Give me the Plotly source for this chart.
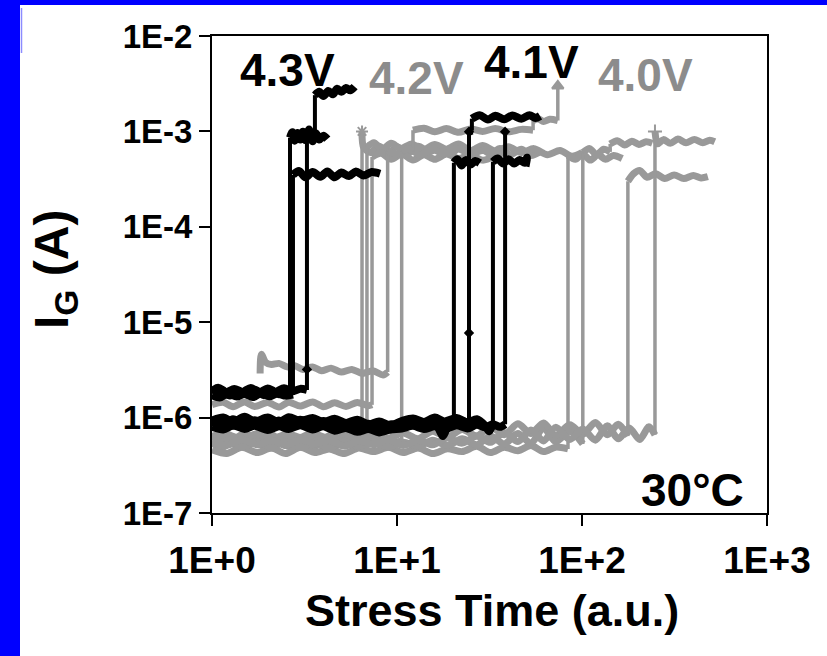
import plotly.graph_objects as go

# ---- gate current I_G (A) vs stress time (a.u.), one list pair per device ----
# 4.3 V devices
t43a = [1.0, 1.12, 1.25, 1.4, 1.55, 1.72, 1.9, 2.1, 2.3, 2.5, 2.64, 2.64, 2.72, 2.8, 2.9, 3.0, 3.1, 3.2, 3.35, 3.5, 3.65, 3.8, 4.0, 4.2]
i43a = [1.80e-6, 1.92e-6, 1.70e-6, 1.88e-6, 1.74e-6, 1.95e-6, 1.72e-6, 1.90e-6, 1.76e-6, 1.86e-6, 1.8e-6, 8.6e-4,
        9.8e-4, 8.0e-4, 9.6e-4, 8.2e-4, 9.9e-4, 8.1e-4, 9.4e-4, 7.9e-4, 9.5e-4, 8.2e-4, 9.0e-4, 8.3e-4]
t43b = [1.0, 1.1, 1.22, 1.36, 1.5, 1.66, 1.84, 2.04, 2.25, 2.5, 2.74, 2.74, 2.95, 3.2, 3.5, 3.85, 4.2, 4.6, 5.0, 5.5, 6.0, 6.6, 7.3, 8.1]
i43b = [1.72e-6, 1.62e-6, 1.80e-6, 1.66e-6, 1.78e-6, 1.64e-6, 1.81e-6, 1.67e-6, 1.79e-6, 1.70e-6, 1.74e-6, 3.5e-4,
        3.85e-4, 3.3e-4, 3.75e-4, 3.35e-4, 3.8e-4, 3.3e-4, 3.7e-4, 3.4e-4, 3.8e-4, 3.45e-4, 3.75e-4, 3.6e-4]
t43c = [1.0, 1.08, 1.2, 1.32, 1.46, 1.62, 1.8, 2.0, 2.2, 2.45, 2.7, 3.0, 3.26, 3.26, 3.35, 3.45, 3.6, 3.6,
        3.8, 4.0, 4.25, 4.5, 4.75, 5.0, 5.3, 5.6, 5.9]
i43c = [1.9e-6, 2.05e-6, 1.85e-6, 2.0e-6, 1.86e-6, 2.04e-6, 1.84e-6, 2.02e-6, 1.87e-6, 2.03e-6, 1.88e-6, 2.0e-6, 1.95e-6,
        8.8e-4, 1.05e-3, 9.0e-4, 9.4e-4, 2.4e-3, 2.6e-3, 2.35e-3, 2.65e-3, 2.45e-3, 2.8e-3, 2.6e-3, 2.85e-3, 2.7e-3, 2.95e-3]

# 4.1 V devices
t41a = [1.0, 1.15, 1.3, 1.5, 1.7, 2.0, 2.3, 2.6, 3.0, 3.5, 4.0, 4.6, 5.3, 6.1, 7.0, 8.0, 9.2, 10.6, 12.2, 14.0,
        16.0, 17.2, 17.7, 18.3, 19.2, 20.3, 20.3, 21.2, 22.3, 23.5, 25.0, 26.5, 28.0]
i41a = [9.0e-7, 8.3e-7, 9.6e-7, 8.5e-7, 9.4e-7, 8.2e-7, 9.3e-7, 8.4e-7, 9.5e-7, 8.6e-7, 9.2e-7, 8.1e-7, 8.8e-7, 7.9e-7,
        8.6e-7, 7.6e-7, 8.5e-7, 8.3e-7, 9.2e-7, 8.4e-7, 8.9e-7, 7.0e-7, 6.4e-7, 7.2e-7, 8.6e-7, 8.8e-7,
        4.7e-4, 5.1e-4, 4.4e-4, 5.0e-4, 4.5e-4, 4.9e-4, 4.65e-4]
t41b = [1.0, 1.15, 1.3, 1.5, 1.7, 2.0, 2.3, 2.6, 3.0, 3.5, 4.0, 4.6, 5.3, 6.1, 7.0, 8.0, 9.2, 10.6, 12.2, 14.0,
        16.0, 18.0, 21.0, 24.5, 24.5, 24.5, 25.4, 25.4, 28.0, 31.0, 34.0, 38.0, 42.0, 47.0, 52.0, 56.0, 59.3]
i41b = [8.6e-7, 9.5e-7, 8.2e-7, 9.3e-7, 8.4e-7, 9.6e-7, 8.3e-7, 9.4e-7, 8.5e-7, 9.5e-7, 8.4e-7, 9.1e-7, 7.8e-7, 8.7e-7,
        7.7e-7, 8.4e-7, 7.5e-7, 8.6e-7, 9.3e-7, 8.5e-7, 9.4e-7, 8.6e-7, 9.6e-7, 8.6e-7, 7.7e-6, 9.9e-4, 1.02e-3, 1.36e-3,
        1.48e-3, 1.33e-3, 1.46e-3, 1.34e-3, 1.47e-3, 1.36e-3, 1.48e-3, 1.38e-3, 1.45e-3]
t41c = [1.0, 1.15, 1.3, 1.5, 1.7, 2.0, 2.3, 2.6, 3.0, 3.5, 4.0, 4.6, 5.3, 6.1, 7.0, 8.0, 9.2, 10.6, 12.2, 14.0,
        16.0, 18.0, 21.0, 24.0, 27.0, 30.0, 31.5, 33.0, 33.0, 35.0, 37.5, 40.0, 43.0, 46.0, 49.0, 50.4, 49.5]
i41c = [9.3e-7, 1.0e-6, 9.0e-7, 1.02e-6, 9.1e-7, 1.0e-6, 8.9e-7, 1.01e-6, 9.2e-7, 9.9e-7, 9.0e-7, 9.7e-7, 8.8e-7, 9.5e-7,
        8.5e-7, 9.1e-7, 8.3e-7, 9.2e-7, 9.8e-7, 9.0e-7, 1.0e-6, 9.1e-7, 9.9e-7, 8.9e-7, 9.6e-7, 8.2e-7, 7.2e-7, 8.6e-7,
        4.8e-4, 5.2e-4, 4.6e-4, 5.1e-4, 4.6e-4, 5.0e-4, 4.7e-4, 5.3e-4, 4.3e-4]
t41d = [1.0, 1.15, 1.3, 1.5, 1.7, 2.0, 2.3, 2.6, 3.0, 3.5, 4.0, 4.6, 5.3, 6.1, 7.0, 8.0, 9.2, 10.6, 12.2, 14.0,
        16.0, 18.0, 21.0, 24.0, 27.0, 30.0, 33.0, 36.0, 38.4, 38.4]
i41d = [8.0e-7, 7.5e-7, 8.3e-7, 7.6e-7, 8.2e-7, 7.4e-7, 8.1e-7, 7.6e-7, 8.3e-7, 7.5e-7, 8.1e-7, 7.3e-7, 7.8e-7, 7.1e-7,
        7.6e-7, 7.0e-7, 7.5e-7, 7.7e-7, 8.2e-7, 7.6e-7, 8.1e-7, 7.5e-7, 8.3e-7, 7.7e-7, 8.4e-7, 7.9e-7, 8.5e-7, 8.0e-7,
        8.5e-7, 9.9e-4]

# 4.2 V devices
t42a = [1.0, 1.15, 1.3, 1.5, 1.7, 2.0, 2.3, 2.6, 3.0, 3.5, 4.0, 4.6, 5.3, 6.0, 6.47, 6.47, 6.6, 7.2, 8.0, 9.0,
        10.0, 11.5, 13.0, 15.0, 17.0, 19.5, 22.0, 25.0, 28.0, 32.0, 36.0, 41.0, 47.0, 53.0, 60.0]
i42a = [5.4e-7, 4.9e-7, 5.7e-7, 5.0e-7, 5.6e-7, 4.8e-7, 5.5e-7, 5.0e-7, 5.7e-7, 4.9e-7, 5.5e-7, 5.0e-7, 5.6e-7, 5.1e-7,
        5.4e-7, 1.0e-3, 6.8e-4, 6.0e-4, 7.0e-4, 6.0e-4, 6.9e-4, 5.9e-4, 7.0e-4, 6.1e-4, 6.8e-4, 5.8e-4, 6.9e-4, 6.0e-4,
        6.7e-4, 5.8e-4, 6.6e-4, 5.7e-4, 6.5e-4, 5.6e-4, 6.2e-4]
t42b = [1.0, 1.15, 1.3, 1.5, 1.7, 2.0, 2.3, 2.6, 3.0, 3.5, 4.0, 4.6, 5.3, 6.1, 6.88, 6.88, 7.5, 8.3, 9.3, 10.5,
        12.0, 13.8, 16.0, 18.5, 21.5, 25.0, 29.0, 34.0, 40.0, 47.0, 55.0, 65.0, 76.0, 88.0, 100.0]
i42b = [6.3e-7, 6.9e-7, 6.0e-7, 6.8e-7, 6.1e-7, 7.0e-7, 6.0e-7, 6.7e-7, 6.2e-7, 6.9e-7, 6.1e-7, 6.8e-7, 6.0e-7, 6.6e-7,
        6.3e-7, 6.8e-4, 7.6e-4, 6.5e-4, 7.5e-4, 6.6e-4, 7.4e-4, 6.4e-4, 7.3e-4, 6.5e-4, 7.4e-4, 6.3e-4, 7.1e-4, 6.2e-4,
        6.9e-4, 6.0e-4, 6.6e-4, 5.7e-4, 6.3e-4, 5.5e-4, 6.0e-4]
t42c = [1.0, 1.15, 1.3, 1.5, 1.7, 2.0, 2.3, 2.6, 3.0, 3.5, 4.0, 4.6, 5.3, 6.1, 7.0, 7.33, 7.33, 8.2, 9.3, 10.6,
        12.2, 14.0, 16.0, 18.5, 21.5, 25.0, 29.0, 34.0]
i42c = [1.37e-6, 1.45e-6, 1.30e-6, 1.46e-6, 1.31e-6, 1.44e-6, 1.29e-6, 1.45e-6, 1.32e-6, 1.46e-6, 1.30e-6, 1.43e-6,
        1.31e-6, 1.44e-6, 1.33e-6, 1.36e-6, 5.4e-4, 5.9e-4, 5.1e-4, 5.8e-4, 5.0e-4, 5.7e-4, 5.1e-4, 5.8e-4, 5.2e-4,
        5.7e-4, 5.0e-4, 5.5e-4]
t42d = [1.82, 1.85, 1.95, 2.1, 2.3, 2.55, 2.8, 3.1, 3.5, 3.9, 4.4, 5.0, 5.7, 6.5, 7.4, 8.4, 8.9, 8.9, 10.0, 11.5,
        13.3, 15.5, 18.0, 21.0, 25.0, 30.0, 35.0, 40.0]
i42d = [2.9e-6, 4.6e-6, 3.8e-6, 3.6e-6, 3.7e-6, 3.4e-6, 3.5e-6, 3.2e-6, 3.4e-6, 3.1e-6, 3.3e-6, 3.0e-6, 3.2e-6, 2.9e-6,
        3.1e-6, 2.8e-6, 3.0e-6, 6.2e-4, 5.8e-4, 6.6e-4, 5.7e-4, 6.5e-4, 5.8e-4, 6.6e-4, 5.9e-4, 6.4e-4, 5.8e-4, 6.2e-4]
t42e = [1.0, 1.15, 1.3, 1.5, 1.7, 2.0, 2.3, 2.6, 3.0, 3.5, 4.0, 4.6, 5.3, 6.1, 7.0, 8.0, 9.2, 10.6, 10.6, 11.5,
        12.2, 12.2, 14.0, 16.0, 18.5, 21.5, 25.0, 29.0, 34.0, 40.0, 47.0, 54.4, 54.4, 58.0, 62.0, 67.0, 74.0, 74.0]
i42e = [5.8e-7, 6.3e-7, 5.5e-7, 6.2e-7, 5.4e-7, 6.3e-7, 5.5e-7, 6.1e-7, 5.4e-7, 6.2e-7, 5.6e-7, 6.3e-7, 5.5e-7, 6.1e-7,
        5.4e-7, 6.0e-7, 5.5e-7, 5.7e-7, 6.2e-4, 6.6e-4, 6.2e-4, 1.03e-3, 1.08e-3, 0.99e-3, 1.07e-3, 0.98e-3, 1.06e-3,
        1.0e-3, 1.07e-3, 0.99e-3, 1.05e-3, 1.03e-3, 1.30e-3, 1.36e-3, 1.27e-3, 1.34e-3, 1.30e-3, 3.0e-3]

# 4.0 V devices
t40a = [1.0, 1.2, 1.45, 1.75, 2.1, 2.5, 3.0, 3.6, 4.3, 5.2, 6.2, 7.5, 9.0, 10.8, 13.0, 15.6, 18.7, 22.5, 27.0, 32.0,
        38.0, 45.0, 53.0, 62.0, 72.0, 84.0, 84.0, 92.0, 101.0, 111.0, 122.0, 134.0, 148.0, 165.0]
i40a = [4.6e-7, 4.2e-7, 4.9e-7, 4.3e-7, 4.8e-7, 4.2e-7, 4.9e-7, 4.3e-7, 4.7e-7, 4.2e-7, 4.8e-7, 4.4e-7, 4.9e-7, 4.3e-7,
        4.8e-7, 4.2e-7, 4.7e-7, 4.4e-7, 5.0e-7, 4.3e-7, 4.9e-7, 4.5e-7, 5.1e-7, 4.4e-7, 4.9e-7, 4.7e-7,
        5.6e-4, 5.1e-4, 5.8e-4, 5.0e-4, 5.7e-4, 5.1e-4, 5.6e-4, 5.2e-4]
t40b = [1.0, 1.2, 1.45, 1.75, 2.1, 2.5, 3.0, 3.6, 4.3, 5.2, 6.2, 7.5, 9.0, 10.8, 13.0, 15.6, 18.7, 22.5, 27.0, 32.0,
        38.0, 45.0, 53.0, 62.0, 72.0, 86.0, 101.0, 101.0, 110.0, 120.0, 131.0, 142.0, 142.0, 155.0, 170.0, 186.0,
        203.0, 222.0, 240.0]
i40b = [5.2e-7, 5.7e-7, 4.9e-7, 5.6e-7, 4.8e-7, 5.7e-7, 4.9e-7, 5.5e-7, 4.8e-7, 5.6e-7, 5.0e-7, 5.7e-7, 4.9e-7, 5.5e-7,
        5.0e-7, 5.8e-7, 5.1e-7, 6.0e-7, 5.2e-7, 6.4e-7, 5.3e-7, 6.8e-7, 5.4e-7, 7.8e-7, 5.6e-7, 7.2e-7, 5.3e-7,
        6.0e-4, 6.6e-4, 5.7e-4, 6.5e-4, 6.1e-4, 7.4e-4, 8.0e-4, 7.2e-4, 7.9e-4, 7.3e-4, 7.8e-4, 7.5e-4]
t40c = [1.0, 1.2, 1.45, 1.75, 2.1, 2.5, 3.0, 3.6, 4.3, 5.2, 6.2, 7.5, 9.0, 10.8, 13.0, 15.6, 18.7, 22.5, 27.0, 32.0,
        38.0, 45.0, 53.0, 62.0, 72.0, 86.0, 101.0, 118.0, 137.0, 157.0, 177.0, 177.0, 190.0, 205.0, 225.0, 250.0,
        280.0, 315.0, 355.0, 400.0, 440.0, 479.0]
i40c = [6.2e-7, 6.7e-7, 5.9e-7, 6.8e-7, 6.0e-7, 6.6e-7, 5.8e-7, 6.7e-7, 6.0e-7, 6.8e-7, 5.9e-7, 6.6e-7, 6.1e-7, 6.9e-7,
        6.0e-7, 7.2e-7, 6.2e-7, 7.5e-7, 6.4e-7, 8.0e-7, 6.6e-7, 8.6e-7, 6.8e-7, 8.8e-7, 6.5e-7, 8.4e-7, 6.7e-7, 8.9e-7,
        6.6e-7, 8.5e-7, 6.4e-7, 3.0e-4, 3.6e-4, 3.9e-4, 3.3e-4, 3.6e-4, 3.2e-4, 3.5e-4, 3.2e-4, 3.45e-4, 3.25e-4, 3.35e-4]
t40d = [1.0, 1.2, 1.45, 1.75, 2.1, 2.5, 3.0, 3.6, 4.3, 5.2, 6.2, 7.5, 9.0, 10.8, 13.0, 15.6, 18.7, 22.5, 27.0, 32.0,
        38.0, 45.0, 53.0, 62.0, 72.0, 86.0, 101.0, 118.0, 137.0, 157.0, 180.0, 205.0, 230.0, 248.0, 248.0, 256.0,
        275.0, 300.0, 330.0, 365.0, 405.0, 450.0, 490.0, 522.0]
i40d = [5.6e-7, 5.1e-7, 5.9e-7, 5.2e-7, 5.8e-7, 5.1e-7, 5.9e-7, 5.3e-7, 5.8e-7, 5.0e-7, 5.7e-7, 5.2e-7, 5.9e-7, 5.1e-7,
        5.8e-7, 5.2e-7, 6.1e-7, 5.4e-7, 6.4e-7, 5.5e-7, 7.0e-7, 5.6e-7, 7.4e-7, 5.7e-7, 7.9e-7, 5.9e-7, 7.6e-7, 5.8e-7,
        8.2e-7, 6.0e-7, 7.8e-7, 5.9e-7, 8.0e-7, 6.6e-7, 1.0e-3, 7.4e-4, 8.2e-4, 7.5e-4, 8.3e-4, 7.6e-4, 8.2e-4, 7.6e-4,
        8.1e-4, 7.8e-4]

# sampled points drawn as symbols on the traces
black_pts_t = [3.26, 24.5, 24.5, 38.4]
black_pts_i = [3.2e-6, 7.7e-6, 9.9e-4, 9.9e-4]
gray_pts_t = [6.47, 74.0, 248.0]
gray_pts_i = [1.0e-3, 3.0e-3, 1.0e-3]
gray_pts_sym = ["asterisk-open", "triangle-up", "cross-thin-open"]

# axis ticks
x_tickvals = [1, 10, 100, 1000]
x_ticktext = ["1E+0", "1E+1", "1E+2", "1E+3"]
y_tickvals = [1e-2, 1e-3, 1e-4, 1e-5, 1e-6, 1e-7]
y_ticktext = ["1E-2", "1E-3", "1E-4", "1E-5", "1E-6", "1E-7"]

BLACK = "#000000"
GRAY = "#999999"
GRAY_TEXT = "#8c8c8c"
FONT = "Liberation Sans, Arial, sans-serif"

gray_devices = [(t42a, i42a), (t42b, i42b), (t42c, i42c), (t42d, i42d), (t42e, i42e),
                (t40a, i40a), (t40b, i40b), (t40c, i40c), (t40d, i40d)]
black_devices = [(t43a, i43a), (t43b, i43b), (t43c, i43c),
                 (t41a, i41a), (t41b, i41b), (t41c, i41c), (t41d, i41d)]


def split_runs(t, i):
    """Split a device record into noisy plateaus and the vertical jumps between them."""
    plateaus, jumps = [], []
    cur_t, cur_i = [t[0]], [i[0]]
    for k in range(1, len(t)):
        if t[k] == t[k - 1]:
            jumps.append(([t[k - 1], t[k]], [i[k - 1], i[k]]))
            if len(cur_t) > 1:
                plateaus.append((cur_t, cur_i))
            cur_t, cur_i = [t[k]], [i[k]]
        else:
            cur_t.append(t[k])
            cur_i.append(i[k])
    if len(cur_t) > 1:
        plateaus.append((cur_t, cur_i))
    return plateaus, jumps


fig = go.Figure()


def add_devices(devices, color, w_plateau, w_jump):
    for t, i in devices:
        plateaus, jumps = split_runs(t, i)
        for jt, ji in jumps:
            fig.add_trace(go.Scatter(x=jt, y=ji, mode="lines",
                                     line=dict(color=color, width=w_jump),
                                     showlegend=False, hoverinfo="skip"))
        for pt, pi in plateaus:
            fig.add_trace(go.Scatter(x=pt, y=pi, mode="lines",
                                     line=dict(color=color, width=w_plateau,
                                               shape="spline", smoothing=0.8),
                                     showlegend=False, hoverinfo="skip"))


add_devices(gray_devices, GRAY, 7, 3.5)
fig.add_trace(go.Scatter(x=gray_pts_t, y=gray_pts_i, mode="markers",
                         marker=dict(symbol=gray_pts_sym, size=10, color=GRAY,
                                     line=dict(color=GRAY, width=2)),
                         showlegend=False, hoverinfo="skip"))
add_devices(black_devices, BLACK, 8, 4)
fig.add_trace(go.Scatter(x=black_pts_t, y=black_pts_i, mode="markers",
                         marker=dict(symbol="diamond", size=8, color=BLACK),
                         showlegend=False, hoverinfo="skip"))

axis_common = dict(
    showline=True, linecolor="black", linewidth=2, mirror=True,
    ticks="outside", ticklen=11, tickwidth=2, tickcolor="black",
    showgrid=False, zeroline=False,
)
fig.update_xaxes(type="log", range=[0, 3], tickvals=x_tickvals, ticktext=x_ticktext,
                 ticklabelstandoff=3,
                 tickfont=dict(family=FONT, size=37, color="black", weight="bold"),
                 **axis_common)
fig.update_yaxes(type="log", range=[-7, -2], tickvals=y_tickvals, ticktext=y_ticktext,
                 ticklabelstandoff=0,
                 tickfont=dict(family=FONT, size=33, color="black", weight="bold"),
                 **axis_common)


def px_x(px):
    return (px - 212) / 555.0


def px_y(py):
    return (513 - py) / 477.0


labels = [
    ("4.3V", 287, 70, BLACK),
    ("4.2V", 416, 78, GRAY_TEXT),
    ("4.1V", 531, 62, BLACK),
    ("4.0V", 645, 75, GRAY_TEXT),
    ("30\u00b0C", 692, 490, BLACK),
]
annotations = []
for text, cx, cy, col in labels:
    annotations.append(dict(text=text, x=px_x(cx), y=px_y(cy), xref="paper", yref="paper",
                            showarrow=False, xanchor="center", yanchor="middle",
                            font=dict(family=FONT, size=46, color=col, weight="bold")))
annotations.append(dict(text="Stress Time (a.u.)", x=px_x(492), y=px_y(610),
                        xref="paper", yref="paper", showarrow=False,
                        xanchor="center", yanchor="middle",
                        font=dict(family=FONT, size=45, color="black", weight="bold")))
annotations.append(dict(text="I<sub>G</sub> (A)", x=px_x(55), y=px_y(270),
                        xref="paper", yref="paper", showarrow=False, textangle=-90,
                        xanchor="center", yanchor="middle",
                        font=dict(family=FONT, size=48, color="black", weight="bold")))

# blue frame strips along the top and left edges of the page
shapes = [
    dict(type="rect", xref="paper", yref="paper", x0=px_x(-2), x1=px_x(20),
         y0=px_y(660), y1=px_y(-2), fillcolor="#0000ff", line=dict(width=0), layer="below"),
    dict(type="rect", xref="paper", yref="paper", x0=px_x(-2), x1=px_x(830),
         y0=px_y(5), y1=px_y(-2), fillcolor="#0000ff", line=dict(width=0), layer="below"),
    dict(type="line", xref="paper", yref="paper", x0=px_x(21.5), x1=px_x(21.5),
         y0=px_y(8), y1=px_y(53), line=dict(color="#8c8cff", width=1.5)),
]

fig.update_layout(
    width=827, height=656,
    margin=dict(l=212, r=60, t=36, b=143),
    paper_bgcolor="white", plot_bgcolor="white",
    annotations=annotations, shapes=shapes,
    showlegend=False,
)

fig.write_html("out.html")
